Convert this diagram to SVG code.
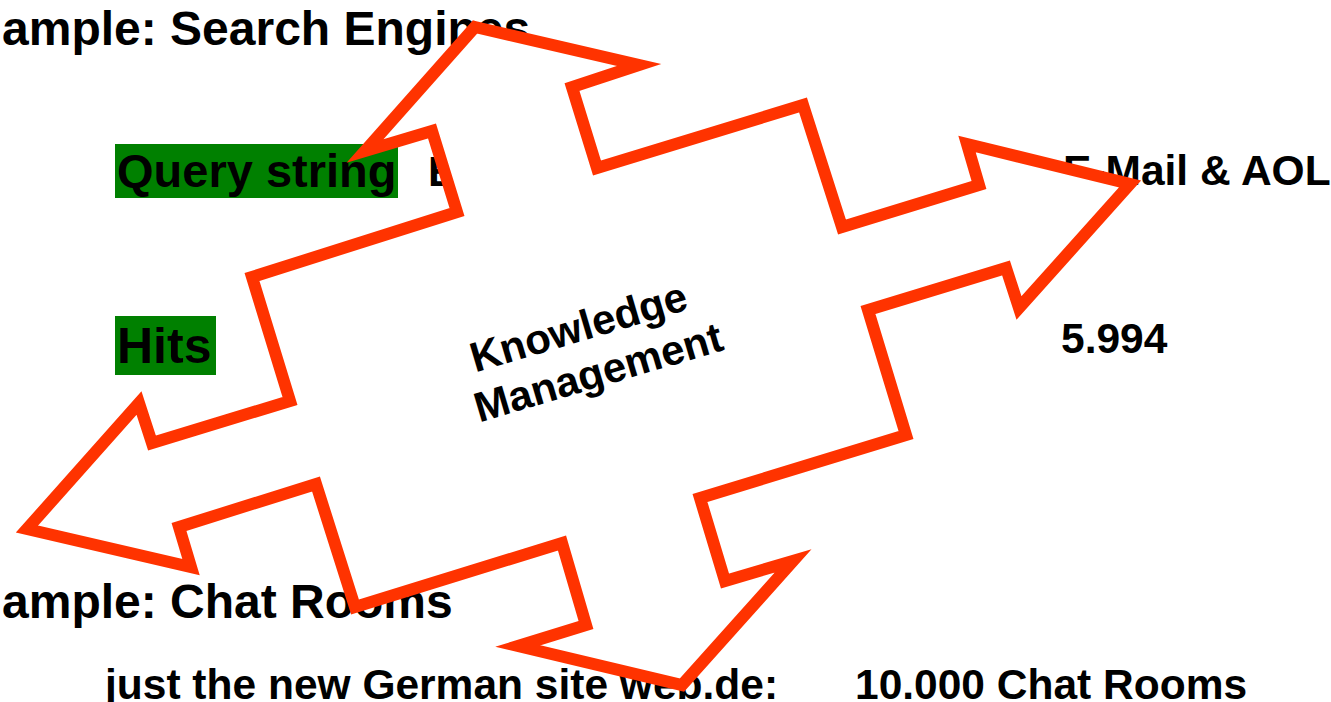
<svg xmlns="http://www.w3.org/2000/svg" width="1331" height="702" viewBox="0 0 1331 702">
  <style>
    .t { font-family: "Liberation Sans", Arial, sans-serif; font-weight: bold; fill: #000; }
    .title { font-size: 48px; }
    .sub { font-size: 42.5px; }
    .hl { fill: #008000; }
    .arrow { fill: #FFFFFF; stroke: #FF3300; stroke-width: 12; stroke-linejoin: miter; stroke-miterlimit: 10; }
  </style>
  <rect x="0" y="0" width="1331" height="702" fill="#FFFFFF"/>

  <g id="background-text">
    <text class="t title" x="2" y="45">ample: Search Engines</text>
    <rect class="hl" x="115" y="144" width="283" height="54"/>
    <text class="t" x="117" y="187" font-size="47">Query string</text>
    <text class="t sub" x="428" y="186">E</text>
    <text class="t sub" x="1063" y="185">E-Mail &amp; AOL</text>
    <rect class="hl" x="115" y="316" width="101" height="59"/>
    <text class="t" x="117" y="363" font-size="50">Hits</text>
    <text class="t sub" x="1061" y="353">5.994</text>
    <text class="t title" x="2" y="618">ample: Chat Rooms</text>
    <text class="t sub" x="105" y="699">just the new German site web.de:</text>
    <text class="t sub" x="855" y="699">10.000 Chat Rooms</text>
  </g>

  <g id="arrow">
    <polygon class="arrow" points="475,27 639,65 572,87 597,168 803,105 842,227 979,185 967,144 1130,184 1019,308 1006,268 868,310 906,435 700,498 725,581 793,561 682,685 518,646 586,625 562,543 355,607 316,484 179,527 191,567 27,529 139,403 152,443 290,401 252,277 457,212 432,131 365,151"/>
    <g transform="translate(592,362) rotate(-16.5)">
      <text class="t" font-size="42" text-anchor="middle" x="-3" y="-23">Knowledge</text>
      <text class="t" font-size="42" text-anchor="middle" x="3" y="26">Management</text>
    </g>
  </g>
</svg>
